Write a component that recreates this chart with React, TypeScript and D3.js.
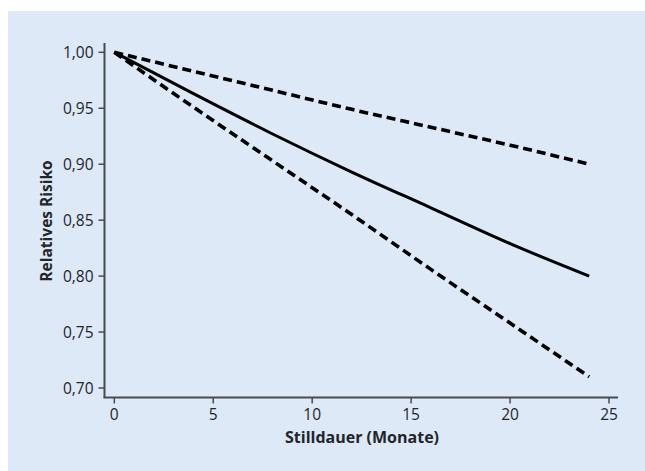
import React, { useEffect, useRef } from 'react'
import * as d3 from 'd3'

// months of breastfeeding
const months = [0, 4, 8, 12, 16, 20, 24]
// relative risk (estimate) and confidence bounds
const riskMid = [1.0, 0.963, 0.927, 0.893, 0.861, 0.829, 0.8]
const riskUpper = [1.0, 0.983, 0.966, 0.949, 0.933, 0.917, 0.9]
const riskLower = [1.0, 0.951, 0.903, 0.855, 0.806, 0.758, 0.71]

const xTicks = [0, 5, 10, 15, 20, 25]
const yTicks = [0.7, 0.75, 0.8, 0.85, 0.9, 0.95, 1.0]

const W = 645
const H = 471

const App = () => {
  const ref = useRef<SVGSVGElement>(null)

  useEffect(() => {
    const svg = d3.select(ref.current)
    svg.selectAll('*').remove()

    const axisColor = '#474c52'
    const textColor = '#222529'
    const font = "'Open Sans', 'Noto Sans', sans-serif"

    // background panel
    svg.append('rect')
      .attr('x', 8).attr('y', 11)
      .attr('width', W - 8).attr('height', H - 11)
      .attr('fill', '#dde9f7')

    const x = d3.scaleLinear().domain([0, 25]).range([114.3, 609])
    const y = d3.scaleLinear().domain([0.7, 1.0]).range([388, 52.3])

    const axisX = 104.5
    const axisY = 397.5

    // y axis
    const gy = svg.append('g').attr('transform', `translate(${axisX},0)`)
    gy.append('line')
      .attr('y1', 43).attr('y2', axisY)
      .attr('stroke', axisColor).attr('stroke-width', 2)
    gy.selectAll('.tick')
      .data(yTicks)
      .join('g')
        .attr('transform', d => `translate(0,${y(d)})`)
      .call(g => {
        g.append('line').attr('x1', -6).attr('x2', 0)
          .attr('stroke', axisColor).attr('stroke-width', 1.5)
        g.append('text')
          .attr('x', -11).attr('dy', '0.36em')
          .attr('text-anchor', 'end')
          .attr('font-family', font).attr('font-size', 15.5)
          .attr('fill', textColor)
          .text(d => d3.format('.2f')(d).replace('.', ','))
      })

    // x axis
    const gx = svg.append('g').attr('transform', `translate(0,${axisY})`)
    gx.append('line')
      .attr('x1', axisX - 1).attr('x2', 618)
      .attr('stroke', axisColor).attr('stroke-width', 2)
    gx.selectAll('.tick')
      .data(xTicks)
      .join('g')
        .attr('transform', d => `translate(${x(d)},0)`)
      .call(g => {
        g.append('line').attr('y1', 0).attr('y2', 6)
          .attr('stroke', axisColor).attr('stroke-width', 1.5)
        g.append('text')
          .attr('y', 22.5)
          .attr('text-anchor', 'middle')
          .attr('font-family', font).attr('font-size', 15.5)
          .attr('fill', textColor)
          .text(d => d)
      })

    // axis titles
    svg.append('text')
      .attr('x', 362).attr('y', 443)
      .attr('text-anchor', 'middle')
      .attr('font-family', font).attr('font-size', 16).attr('font-weight', 'bold')
      .attr('fill', textColor)
      .text('Stilldauer (Monate)')
    svg.append('text')
      .attr('transform', `translate(52,221) rotate(-90)`)
      .attr('text-anchor', 'middle')
      .attr('font-family', font).attr('font-size', 15.5).attr('font-weight', 'bold')
      .attr('fill', textColor)
      .text('Relatives Risiko')

    const line = d3.line<number>()
      .x((_, i) => x(months[i]))
      .y(d => y(d))
      .curve(d3.curveMonotoneX)

    const series = [
      { values: riskUpper, dash: '9,5' },
      { values: riskLower, dash: '9,5' },
      { values: riskMid, dash: null },
    ]
    svg.selectAll('.series')
      .data(series)
      .join('path')
        .attr('d', d => line(d.values))
        .attr('fill', 'none')
        .attr('stroke', '#000')
        .attr('stroke-width', d => (d.dash ? 3.6 : 3))
        .attr('stroke-dasharray', d => d.dash)
  }, [])

  return <svg ref={ref} width={W} height={H} style={{ position: 'absolute', left: 0, top: 0 }} />
}

export default App
